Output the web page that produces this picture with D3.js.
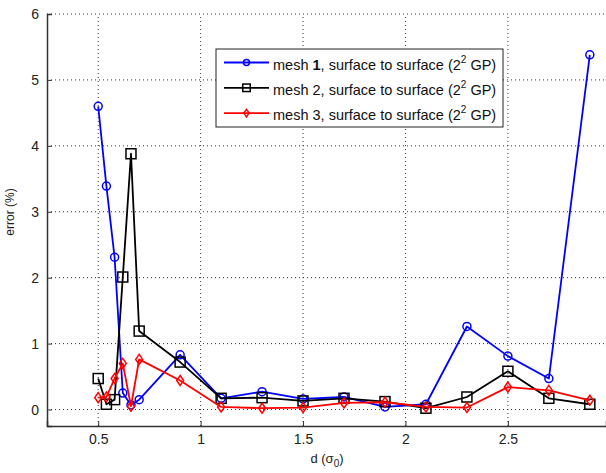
<!DOCTYPE html>
<html><head><meta charset="utf-8">
<script src="https://cdn.jsdelivr.net/npm/d3@7"></script>
<style>body{margin:0;background:#fff}svg{display:block}</style>
</head><body>
<script>
const xValues = [0.5,0.54,0.58,0.62,0.66,0.7,0.9,1.1,1.3,1.5,1.7,1.9,2.1,2.3,2.5,2.7,2.9];
const mesh1 = [4.6,3.39,2.31,0.25,0.07,0.15,0.83,0.17,0.27,0.16,0.19,0.04,0.08,1.26,0.81,0.47,5.38];
const mesh2 = [0.47,0.08,0.15,2.01,3.88,1.19,0.72,0.17,0.18,0.13,0.17,0.12,0.02,0.19,0.58,0.17,0.08];
const mesh3 = [0.18,0.19,0.47,0.70,0.05,0.76,0.44,0.04,0.02,0.03,0.10,0.11,0.04,0.03,0.34,0.29,0.14];
const xTicks = [0.5,1,1.5,2,2.5];
const yTicks = [0,1,2,3,4,5,6];
const seriesNames = ["mesh 1","mesh 2","mesh 3"];
const seriesColors = ["#0000ff","#000000","#ff0000"];
const seriesMarkers = ["circle","square","diamond"];

const W=606,H=473;
const svg=d3.select("body").append("svg").attr("width",W).attr("height",H);
const x=d3.scaleLinear().domain([0.25,2.979]).range([47,606]);
const y=d3.scaleLinear().domain([-0.25,6]).range([426,14]);
const font="'Liberation Sans', Arial, sans-serif";

// grid
const g=svg.append("g");
g.selectAll(".gx").data(xTicks).enter().append("line")
 .attr("x1",d=>x(d)).attr("x2",d=>x(d)).attr("y1",426).attr("y2",14)
 .attr("stroke","#333").attr("stroke-dasharray","1,3");
g.selectAll(".gy").data(yTicks).enter().append("line")
 .attr("x1",47).attr("x2",606).attr("y1",d=>y(d)).attr("y2",d=>y(d))
 .attr("stroke","#333").attr("stroke-dasharray","1,3");

// axes
const ax=d3.axisBottom(x).tickValues(xTicks).tickSize(-5).tickPadding(8).tickFormat(d3.format("~g"));
const ay=d3.axisLeft(y).tickValues(yTicks).tickSize(-5).tickPadding(8).tickFormat(d3.format("d"));
const gx=svg.append("g").attr("transform","translate(0,426)").call(ax);
const gy=svg.append("g").attr("transform","translate(47,0)").call(ay);
[gx,gy].forEach(a=>{
 a.select(".domain").attr("stroke","#333").attr("stroke-width",1.5);
 a.selectAll(".tick line").attr("stroke","#333");
 a.selectAll("text").attr("font-family",font).attr("font-size",14).attr("fill","#222");
});

// axis labels
svg.append("text").attr("transform","translate(14,212) rotate(-90)").attr("text-anchor","middle")
 .attr("font-family",font).attr("font-size",12).attr("fill","#222").text("error (%)");
const xl=svg.append("text").attr("x",327).attr("y",463).attr("text-anchor","middle")
 .attr("font-family",font).attr("font-size",13).attr("fill","#222");
xl.append("tspan").text("d (σ");
xl.append("tspan").attr("font-size",10).attr("dy",4).text("0");
xl.append("tspan").attr("dy",-4).text(")");

function marker(sel,type,color,s){
 if(type==="circle") sel.append("circle").attr("r",4*s).attr("fill","none").attr("stroke",color).attr("stroke-width",1.5);
 else if(type==="square") sel.append("rect").attr("x",-5*s).attr("y",-5*s).attr("width",10*s).attr("height",10*s).attr("fill","none").attr("stroke",color).attr("stroke-width",1.5);
 else sel.append("path").attr("d",`M0,${-5*s}L${3.5*s},0L0,${5*s}L${-3.5*s},0Z`).attr("fill","none").attr("stroke",color).attr("stroke-width",1.5);
}

const allSeries=[mesh1,mesh2,mesh3];
const line=d3.line().x(d=>x(d[0])).y(d=>y(d[1]));
allSeries.forEach((vals,i)=>{
 const pts=xValues.map((xv,j)=>[xv,vals[j]]);
 svg.append("path").datum(pts).attr("d",line).attr("fill","none")
  .attr("stroke",seriesColors[i]).attr("stroke-width",1.8).attr("stroke-linejoin","round");
 pts.forEach(p=>{
  const m=svg.append("g").attr("transform",`translate(${x(p[0])},${y(p[1])})`);
  marker(m,seriesMarkers[i],seriesColors[i],1);
 });
});

// legend
const lg=svg.append("g");
lg.append("rect").attr("x",216).attr("y",49).attr("width",287).attr("height",78)
 .attr("fill","#fff").attr("stroke","#222").attr("stroke-width",1);
seriesNames.forEach((n,i)=>{
 const yy=62.5+i*25.3;
 lg.append("line").attr("x1",224).attr("x2",269).attr("y1",yy).attr("y2",yy)
  .attr("stroke",seriesColors[i]).attr("stroke-width",1.8);
 const m=lg.append("g").attr("transform",`translate(246.5,${yy})`);
 marker(m,seriesMarkers[i],seriesColors[i],0.75);
 const t=lg.append("text").attr("x",273).attr("y",yy+7).attr("font-family",font).attr("font-size",14.5).attr("fill","#111");
 t.append("tspan").text("mesh ");
 t.append("tspan").attr("font-weight",i===0?"bold":"normal").text(String(i+1));
 t.append("tspan").text(", surface to surface (2");
 t.append("tspan").attr("font-size",10).attr("dy",-7).text("2");
 t.append("tspan").attr("dy",7).text(" GP)");
});
</script>
</body></html>
